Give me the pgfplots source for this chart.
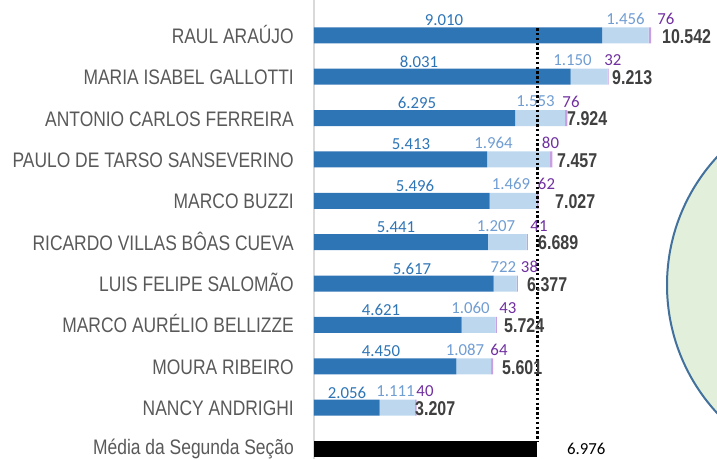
\documentclass[border=0pt]{standalone}
\usepackage{pgfplots}
\pgfplotsset{compat=1.18}
\usepackage{pgfplotstable}
\usepackage{fontspec}
\setmainfont{Liberation Sans}
\newfontfamily\namefont[FakeStretch=0.83]{Liberation Sans}
\newfontfamily\calibri{Carlito}
\newfontfamily\totalfont[FakeStretch=0.80]{Liberation Sans Bold}

\definecolor{darkb}{RGB}{46,117,182}
\definecolor{lightb}{RGB}{189,215,238}
\definecolor{purp}{RGB}{200,160,225}
\definecolor{labdark}{RGB}{46,117,182}
\definecolor{lablight}{RGB}{112,157,210}
\definecolor{labpurp}{RGB}{112,48,160}
\definecolor{totgray}{RGB}{64,64,64}
\definecolor{namegray}{RGB}{89,89,89}
\definecolor{circfill}{RGB}{226,239,218}
\definecolor{circline}{RGB}{65,113,156}

\pgfplotstableread{
row dark light purple media
0 9010 1456 76 0
1 8031 1150 32 0
2 6295 1553 76 0
3 5413 1964 80 0
4 5496 1469 62 0
5 5441 1207 41 0
6 5617 722 38 0
7 4621 1060 43 0
8 4450 1087 64 0
9 2056 1111 40 0
10 0 0 0 6976
}\bars

\pgfplotstableread{
row x label
0 4066 9.010
1 3284 8.031
2 3222 6.295
3 3034 5.413
4 3159 5.496
5 2565 5.441
6 3065 5.617
7 2096 4.621
8 2096 4.450
9 1032 2.056
}\darklab

\pgfplotstableread{
row x label
0 9744 1.456
1 8086 1.150
2 6928 1.553
3 5615 1.964
4 6162 1.469
5 5693 1.207
6 5927 722
7 4895 1.060
8 4723 1.087
9 2549 1.111
}\lightlab

\pgfplotstableread{
row x label
0 11010 76
1 9352 32
2 8039 76
3 7398 80
4 7273 62
5 7038 41
6 6741 38
7 6068 43
8 5787 64
9 3472 40
}\purplab

\pgfplotstableread{
row x label
0 10885 10.542
1 9321 9.213
2 7914 7.924
3 7601 7.457
4 7538 7.027
5 7007 6.689
6 6662 6.377
7 5943 5.724
8 5880 5.601
9 3159 3.207
}\totlab

\pgfplotstableread{
row x label
10 7914 6.976
}\medialab

\begin{document}
\begin{tikzpicture}
\begin{scope}
\clip (-314pt,0pt) rectangle (403pt,459pt);
\filldraw[fill=circfill, draw=circline, line width=2pt] (541.8pt,174pt) circle (188.8pt);
\end{scope}

\begin{axis}[
  at={(0pt,0pt)}, anchor=south west,
  scale only axis, width=403pt, height=459pt,
  xbar stacked, bar width=16pt,
  xmin=0, xmax=12606, ymin=-0.853, ymax=10.242, y dir=reverse,
  ytick={0,1,2,3,4,5,6,7,8,9,10},
  yticklabels={RAUL ARAÚJO, MARIA ISABEL GALLOTTI, ANTONIO CARLOS FERREIRA, PAULO DE TARSO SANSEVERINO, MARCO BUZZI, RICARDO VILLAS BÔAS CUEVA, LUIS FELIPE SALOMÃO, MARCO AURÉLIO BELLIZZE, MOURA RIBEIRO, NANCY ANDRIGHI, \raisebox{2.5pt}{Média da Segunda Seção}},
  yticklabel style={font=\namefont\fontsize{21}{22}\selectfont, text=namegray, anchor=base east, inner sep=0pt, xshift=-20pt, yshift=-8pt},
  xtick=\empty, major tick length=0pt,
  axis line style={draw=none},
  clip=false,
]
\addplot[fill=darkb, draw=none] table[x=dark,y=row]{\bars};
\addplot[fill=lightb, draw=none] table[x=light,y=row]{\bars};
\addplot[fill=purp, draw=none] table[x=purple,y=row]{\bars};
\addplot[fill=black, draw=none] table[x=media,y=row]{\bars};
\draw[color=black!15, line width=1.8pt] (rel axis cs:0,0) -- (rel axis cs:0,1);
\end{axis}

\begin{axis}[
  at={(0pt,0pt)}, anchor=south west,
  scale only axis, width=403pt, height=459pt,
  xmin=0, xmax=12606, ymin=-0.853, ymax=10.242, y dir=reverse,
  hide axis, clip=false,
]
\addplot[black, line width=3pt, dash pattern=on 2.4pt off 2.4pt] coordinates {(6976,-0.17) (6976,9.81)};
\addplot[draw=none, mark=none, nodes near coords, point meta=explicit symbolic,
  nodes near coords style={anchor=center, yshift=15pt, font=\calibri\fontsize{16.8}{17}\selectfont, text=labdark, inner sep=0pt}]
  table[x=x,y=row,meta=label]{\darklab};
\addplot[draw=none, mark=none, nodes near coords, point meta=explicit symbolic,
  nodes near coords style={anchor=center, yshift=16.5pt, font=\calibri\fontsize{16.8}{17}\selectfont, text=lablight, inner sep=0pt}]
  table[x=x,y=row,meta=label]{\lightlab};
\addplot[draw=none, mark=none, nodes near coords, point meta=explicit symbolic,
  nodes near coords style={anchor=center, yshift=16.5pt, font=\calibri\fontsize{16.8}{17}\selectfont, text=labpurp, inner sep=0pt}]
  table[x=x,y=row,meta=label]{\purplab};
\addplot[draw=none, mark=none, nodes near coords, point meta=explicit symbolic,
  nodes near coords style={anchor=base west, yshift=-7.8pt, font=\totalfont\fontsize{20}{21}\selectfont, text=totgray, inner sep=0pt}]
  table[x=x,y=row,meta=label]{\totlab};
\addplot[draw=none, mark=none, nodes near coords, point meta=explicit symbolic,
  nodes near coords style={anchor=base west, yshift=-6pt, font=\calibri\fontsize{16.8}{17}\selectfont, text=black, inner sep=0pt}]
  table[x=x,y=row,meta=label]{\medialab};
\end{axis}

\pgfresetboundingbox
\path[use as bounding box] (-314pt,0pt) rectangle (403pt,459pt);
\end{tikzpicture}
\end{document}
